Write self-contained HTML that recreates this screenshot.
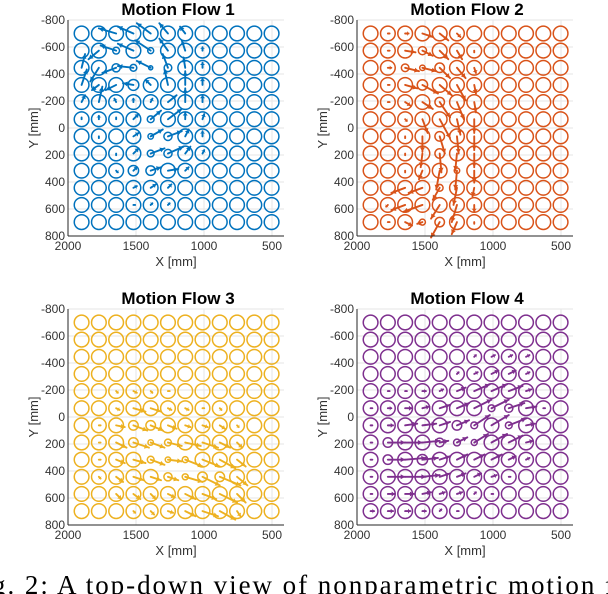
<!DOCTYPE html>
<html><head><meta charset="utf-8"><style>
body{margin:0;background:#fff;width:608px;height:594px;overflow:hidden}
svg{display:block}
text{font-family:"Liberation Sans",sans-serif}
</style></head><body>
<svg id="fig" width="608" height="594" viewBox="0 0 608 594" xmlns="http://www.w3.org/2000/svg">
<text x="-8" y="594" style="font-family:'Liberation Serif',serif" font-size="27" textLength="622" lengthAdjust="spacing">g. 2: A top-down view of nonparametric motion f</text>
</svg>
<script>
// ---- data ----
const xTicks = [2000, 1500, 1000, 500];
const yTicks = [-800, -600, -400, -200, 0, 200, 400, 600, 800];
const gridX0 = 1900, gridY0 = -700, gridStep = 127, nGrid = 12, baseRadius = 54;
const titles = ["Motion Flow 1", "Motion Flow 2", "Motion Flow 3", "Motion Flow 4"];
const colors = ["#0072BD", "#D95319", "#EDB120", "#7E2F8E"];
// arrows: [col, row, towardSmallerX (grid steps), towardLargerY (grid steps)]
const arrows1 = [[2,0,-1.0,-0.3],[3,0,-0.9,-0.4],[4,0,-0.8,-0.6],[5,0,-0.5,-0.6],[6,0,-0.3,-0.4],
[1,1,-0.6,0.5],[2,1,-0.9,-0.3],[3,1,-0.9,-0.4],[4,1,-0.9,-0.6],[5,1,-0.5,-0.7],[6,1,-0.2,-0.6],[7,1,0,-0.2],
[0,2,0.2,-0.8],[1,2,-0.5,0.8],[2,2,-0.8,0.3],[3,2,-0.9,-0.1],[4,2,-0.8,-0.4],[5,2,-0.3,-0.8],[6,2,-0.1,-0.6],[7,2,0,-0.3],
[0,3,0.3,-0.9],[1,3,-0.4,0.3],[2,3,-0.6,0.3],[3,3,-0.6,-0.1],[4,3,-0.3,-0.3],[5,3,-0.2,-0.9],[6,3,0,-0.8],[7,3,0,-0.4],
[0,4,0.2,-0.4],[1,4,0.2,-0.9],[2,4,-0.1,-0.2],[3,4,0,-0.2],[4,4,0.1,-0.2],[5,4,0.5,-0.4],[6,4,0,-0.8],[7,4,0,-0.4],
[0,5,0,-0.1],[1,5,0,-0.2],[2,5,0,-0.1],[3,5,0.3,-0.3],[4,5,0.6,-0.5],[5,5,0.8,-0.6],[6,5,0,-0.4],[7,5,0.1,-0.3],
[1,6,0,0.1],[3,6,0.3,-0.2],[4,6,0.7,-0.4],[5,6,0.8,-0.3],[6,6,0.2,-0.4],[7,6,0,-0.3],
[2,7,0,0.1],[3,7,0.3,-0.3],[4,7,0.8,-0.3],[5,7,0.9,-0.4],[6,7,0.3,-0.4],[7,7,0.1,-0.2],
[2,8,0.1,0.1],[3,8,0.2,-0.2],[4,8,0.6,-0.2],[5,8,0.6,-0.1],[6,8,0.2,-0.2],
[3,9,0.2,-0.1],[4,9,0.3,-0.2],[5,9,0.2,-0.2],[3,10,0.1,0],[4,10,0.1,-0.1],[5,10,0.1,-0.1]];
const arrows2 = [[1,0,0.1,0],[2,0,0.2,0],[3,0,0.6,0.2],[4,0,0.5,0.4],[5,0,0.2,0.2],
[1,1,0.1,0],[2,1,0.6,0.1],[3,1,0.6,0.3],[4,1,0.5,0.5],[5,1,0.3,0.5],[6,1,0,0.1],
[1,2,0.2,0],[2,2,0.8,0.2],[3,2,0.8,0.2],[4,2,0.6,0.6],[5,2,0.5,0.6],[6,2,0.1,0.3],
[1,3,0.1,0],[2,3,0.7,0.2],[3,3,0.9,0.5],[4,3,0.7,0.6],[5,3,0.5,0.9],[6,3,0.1,0.5],
[1,4,0.1,0],[2,4,0.3,0.2],[3,4,0.6,0.4],[4,4,0.6,0.9],[5,4,0.4,1.0],[6,4,0.1,0.6],
[2,5,0.1,0.1],[3,5,0.3,0.8],[4,5,0.6,1.1],[5,5,0.2,0.9],[6,5,0,0.8],
[2,6,0,0.1],[3,6,0,0.9],[4,6,0.3,1.0],[5,6,0.1,1.0],[6,6,0,0.8],
[2,7,0,0.1],[3,7,-0.1,0.8],[4,7,0.1,1.1],[5,7,-0.1,1.0],[6,7,0,0.8],
[2,8,0,0.1],[3,8,-0.2,0.5],[4,8,-0.2,1.1],[5,8,-0.1,1.1],[6,8,0,0.7],
[2,9,-0.8,0.3],[3,9,-0.8,0.3],[4,9,-0.4,0.7],[5,9,-0.2,1.0],[6,9,-0.1,0.5],
[1,10,-0.1,0.1],[2,10,-0.8,0.3],[3,10,-1.1,0.4],[4,10,-0.5,0.8],[5,10,-0.3,1.0],[6,10,0,0.4],
[1,11,0.1,0],[2,11,0.4,0.2],[3,11,-0.3,0.1],[4,11,-0.5,0.9],[5,11,-0.3,0.7],[6,11,0,0.1]];
const arrows3 = [[2,4,0.1,0.1],[3,4,0.2,0.1],[4,4,0.1,0.1],[5,4,0.1,0],
[2,5,0.2,0.1],[3,5,0.7,0.2],[4,5,0.6,0.2],[5,5,0.2,0.1],[6,5,0.2,0.1],[7,5,0.1,0],[8,5,0.1,0.1],
[1,6,0.1,0],[2,6,0.5,0.1],[3,6,0.8,0.3],[4,6,0.7,0.3],[5,6,0.5,0.2],[6,6,0.3,0.1],[7,6,0.3,0.1],[8,6,0.3,0.2],[9,6,0.1,0.1],
[1,7,0.1,0],[2,7,0.6,0.3],[3,7,0.9,0.3],[4,7,0.8,0.3],[5,7,0.8,0.2],[6,7,0.9,0.2],[7,7,0.9,0.3],[8,7,0.6,0.3],[9,7,0.3,0.3],
[1,8,0.1,0],[2,8,0.5,0.2],[3,8,0.7,0.2],[4,8,0.8,0.3],[5,8,0.8,0.1],[6,8,1.0,0.4],[7,8,1.0,0.4],[8,8,0.9,0.5],[9,8,0.5,0.4],
[1,9,0.1,0.1],[2,9,0.4,0.3],[3,9,0.6,0.2],[4,9,0.6,0.2],[5,9,0.6,0.2],[6,9,1.0,0.3],[7,9,1.0,0.5],[8,9,1.2,0.5],[9,9,0.6,0.5],
[2,10,0.3,0.3],[3,10,0.4,0.3],[4,10,0.3,0.3],[5,10,0.4,0.2],[6,10,0.6,0.3],[7,10,0.8,0.3],[8,10,1.0,0.5],[9,10,0.5,0.5],
[3,11,0.1,0.1],[4,11,0.2,0.2],[5,11,0.3,0.1],[6,11,0.6,0.3],[7,11,0.9,0.3],[8,11,0.9,0.5],[9,11,0.2,0.3]];
const arrows4 = [[6,2,0.1,-0.1],[7,2,0.2,-0.1],[8,2,0.2,-0.1],[9,2,0.2,-0.1],
[5,3,0.1,-0.1],[6,3,0.2,-0.1],[7,3,0.4,-0.2],[8,3,0.4,-0.2],[9,3,0.2,-0.1],
[1,4,0.1,0],[2,4,0.1,0],[3,4,0.2,0],[4,4,0.2,-0.1],[5,4,0.5,-0.2],[6,4,0.9,-0.4],[7,4,0.9,-0.4],[8,4,0.8,-0.3],[9,4,0.3,-0.1],
[0,5,0.1,0],[1,5,0.2,0],[2,5,0.4,0],[3,5,0.4,-0.1],[4,5,0.6,-0.2],[5,5,0.7,-0.3],[6,5,1.0,-0.5],[7,5,1.0,-0.5],[8,5,0.9,-0.3],[9,5,0.6,-0.1],[10,5,0.1,0],
[0,6,0.1,0],[1,6,0.3,0],[2,6,0.7,-0.1],[3,6,0.8,-0.1],[4,6,0.6,-0.2],[5,6,0.7,-0.3],[6,6,0.9,-0.6],[7,6,1.0,-0.6],[8,6,1.0,-0.4],[9,6,0.5,-0.1],
[0,7,0.1,0],[1,7,1.0,0],[2,7,1.0,0],[3,7,1.0,-0.1],[4,7,0.5,-0.1],[5,7,0.6,-0.3],[6,7,0.8,-0.5],[7,7,0.9,-0.5],[8,7,0.8,-0.4],[9,7,0.4,-0.1],
[0,8,0.1,0],[1,8,1.0,0],[2,8,1.2,-0.1],[3,8,0.9,-0.1],[4,8,0.6,-0.2],[5,8,0.6,-0.3],[6,8,0.6,-0.3],[7,8,0.6,-0.3],[8,8,0.4,-0.2],[9,8,0.2,-0.1],
[0,9,0.1,0],[1,9,1.0,0],[2,9,1.2,0],[3,9,1.0,-0.1],[4,9,0.6,-0.2],[5,9,0.5,-0.2],[6,9,0.4,-0.2],[7,9,0.3,-0.1],[8,9,0.1,0],
[0,10,0.1,0],[1,10,0.4,0],[2,10,0.5,0],[3,10,0.5,-0.1],[4,10,0.3,-0.1],[5,10,0.3,-0.1],[6,10,0.1,-0.1],[7,10,0.1,0],
[0,11,0.2,0],[1,11,0.3,0],[2,11,0.3,0],[3,11,0.2,0],[4,11,0.1,-0.1],[5,11,0.1,0]];
// smaller circles: [col,row,radius mm]
const radii1 = [[2,1,25],[4,1,22],[2,2,30],[3,2,25],[4,2,15],[5,2,28],[3,3,40],[4,5,25],[4,6,20],[5,6,30],[4,7,25],[5,7,30],[3,8,38],[4,8,35]];
const radii2 = [[3,1,30],[2,2,28],[3,2,20],[4,2,35],[3,3,38],[4,4,35],[4,6,35],[4,7,35],[5,8,20],[4,9,25],[3,11,22],[4,11,35]];
const radii3 = [[3,6,35],[4,6,35],[3,7,35],[4,7,20],[5,7,25],[4,8,25],[5,8,20],[6,8,22],[5,9,30],[6,9,22],[7,9,35],[8,9,35]];
const radii4 = [[5,6,35],[6,6,25],[7,5,25],[8,5,30],[8,6,25],[5,7,25],[6,7,22],[4,7,32],[1,7,35],[1,8,35],[3,8,38]];
const allArrows = [arrows1, arrows2, arrows3, arrows4];
const allRadii = [radii1, radii2, radii3, radii4];
// ---- layout ----
const panels = [{l:68,t:20},{l:357,t:20},{l:68,t:309},{l:357,t:309}];
const NS = "http://www.w3.org/2000/svg";
const svg = document.getElementById('fig');
function mk(tag, attrs, parent){const e=document.createElementNS(NS,tag);for(const k in attrs)e.setAttribute(k,attrs[k]);(parent||svg).appendChild(e);return e;}
panels.forEach((p, pi) => {
  const sx = 0.136, sy = 216/1600;
  const xS = X => p.l + (2000 - X) * sx;
  const yS = Y => p.t + (Y + 800) * sy;
  const W = 216, H = 216;
  const g = mk('g', {});
  
  
  xTicks.forEach(v => { const l = mk('line',{x1:xS(v),x2:xS(v),y1:p.t,y2:p.t+H,stroke:'#e6e6e6','stroke-width':1},g);
      });
  yTicks.forEach(v => { const l = mk('line',{x1:p.l,x2:p.l+W,y1:yS(v),y2:yS(v),stroke:'#e6e6e6','stroke-width':1},g);
      });
  const col = colors[pi];
  for (let j=0;j<nGrid;j++) for (let i=0;i<nGrid;i++) {
    const X = gridX0 - i*gridStep, Y = gridY0 + j*gridStep;
    let r = baseRadius;
    allRadii[pi].forEach(a => { if (a[0]===i && a[1]===j) r = a[2]; });
    const c = mk('circle',{cx:xS(X),cy:yS(Y),r:r*sx,fill:'none',stroke:col,'stroke-width':1.5},g);
    
    
  }
  allArrows[pi].forEach(a => {
    const X0 = gridX0 - a[0]*gridStep, Y0 = gridY0 + a[1]*gridStep;
    const X1 = X0 - a[2]*gridStep, Y1 = Y0 + a[3]*gridStep;
    const x0=xS(X0), y0=yS(Y0), x1=xS(X1), y1=yS(Y1);
    const len = Math.hypot(x1-x0, y1-y0);
    const ag = mk('g',{},g);
    
    
    mk('line',{x1:x0,y1:y0,x2:x1,y2:y1,stroke:col,'stroke-width':1.9,'stroke-linecap':'round'},ag);
    if (len > 2) {
      const ux=(x1-x0)/len, uy=(y1-y0)/len, h=Math.min(4.5, len*0.45), w=2.5;
      const bx=x1-ux*h, by=y1-uy*h;
      mk('polygon',{points:`${x1},${y1} ${bx-uy*w},${by+ux*w} ${bx+uy*w},${by-ux*w}`,fill:col},ag);
    }
  });
  const ax = mk('line',{x1:p.l,x2:p.l+W,y1:p.t+H,y2:p.t+H,stroke:'#262626','stroke-width':1},g);
   
  const ay = mk('line',{x1:p.l,x2:p.l,y1:p.t,y2:p.t+H,stroke:'#262626','stroke-width':1},g);
   
  xTicks.forEach(v => {
    const t = mk('text',{x:xS(v),y:p.t+H+14,'text-anchor':'middle','font-size':12,fill:'#333'},g);
     
    t.textContent = v;
  });
  yTicks.forEach(v => {
    const t = mk('text',{x:p.l-3,y:yS(v)+4,'text-anchor':'end','font-size':12,fill:'#333'},g);
     
    t.textContent = v;
  });
  const xl = mk('text',{x:p.l+W/2,y:p.t+H+30,'text-anchor':'middle','font-size':13,fill:'#333'},g);
   
  xl.textContent = 'X [mm]';
  const yl = mk('text',{x:0,y:0,'text-anchor':'middle','font-size':13,fill:'#333',transform:`translate(${p.l-30},${p.t+H/2}) rotate(-90)`},g);
   
  yl.textContent = 'Y [mm]';
  const tt = mk('text',{x:p.l+W/2+2,y:p.t-5,'text-anchor':'middle','font-size':17,'font-weight':'bold',fill:'#000'},g);
   
  tt.textContent = titles[pi];
});
</script>
</body></html>
